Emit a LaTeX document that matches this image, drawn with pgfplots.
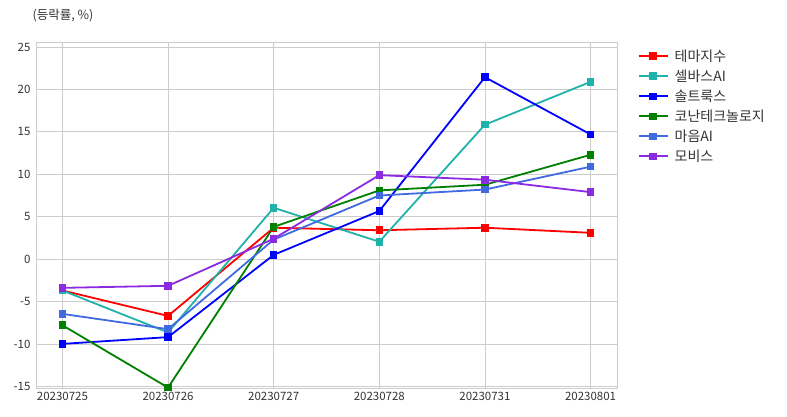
\documentclass[border=0pt]{standalone}
\usepackage{fontspec}
\setmainfont{Noto Sans CJK KR}
\usepackage{pgfplots}
\pgfplotsset{compat=1.18}
\definecolor{cRed}{HTML}{FF0000}
\definecolor{cTeal}{HTML}{20B2AA}
\definecolor{cBlue}{HTML}{0000FF}
\definecolor{cGreen}{HTML}{008000}
\definecolor{cRoyal}{HTML}{4169E1}
\definecolor{cViolet}{HTML}{8A2BE2}
\definecolor{gridgray}{HTML}{CCCCCC}
\definecolor{ticktext}{HTML}{333333}
\tikzset{series/.style={line width=1.8pt, mark=square*, mark size=2.9pt, color=#1, mark options={fill=#1}}}
\begin{document}
\begin{tikzpicture}
\path[use as bounding box] (0,0) rectangle (787pt,416pt);
\begin{axis}[
    at={(36pt,28pt)}, anchor=south west,
    scale only axis,
    width=581pt, height=346pt,
    xmin=-0.25, xmax=5.25,
    ymin=-15.2, ymax=25.6,
    xtick={0,1,2,3,4,5},
    xticklabels={20230725,20230726,20230727,20230728,20230731,20230801},
    ytick={-15,-10,-5,0,5,10,15,20,25},
    grid=major,
    grid style={gridgray, line width=0.8pt},
    axis line style={gridgray, line width=1pt},
    major tick length=0pt,
    tick label style={font=\fontsize{11.5}{13}\selectfont, text=ticktext},
    /pgf/number format/assume math mode=true,
    yticklabel style={xshift=-2pt},
    xticklabel style={yshift=-1pt},
    legend style={draw=none, fill=none, at={(1.03,0.99)}, anchor=north west,
        font=\fontsize{14}{16}\selectfont, row sep=3pt, text=ticktext},
    legend cell align=left,
    legend image code/.code={
        \draw[#1, line width=2pt] (0pt,0pt) -- (29pt,0pt);
        \draw[#1, only marks, mark size=2.9pt] plot coordinates {(14.5pt,0pt)};
    },
]
\addplot[series=cRed] coordinates {(0,-3.7) (1,-6.7) (2,3.7) (3,3.4) (4,3.7) (5,3.1)};
\addlegendentry{\hspace{4pt}테마지수}
\addplot[series=cTeal] coordinates {(0,-3.7) (1,-8.65) (2,6.05) (3,2.05) (4,15.85) (5,20.9)};
\addlegendentry{\hspace{4pt}셀바스AI}
\addplot[series=cBlue] coordinates {(0,-10.0) (1,-9.2) (2,0.5) (3,5.67) (4,21.45) (5,14.7)};
\addlegendentry{\hspace{4pt}솔트룩스}
\addplot[series=cGreen] coordinates {(0,-7.8) (1,-15.15) (2,3.8) (3,8.1) (4,8.77) (5,12.3)};
\addlegendentry{\hspace{4pt}코난테크놀로지}
\addplot[series=cRoyal] coordinates {(0,-6.46) (1,-8.26) (2,2.3) (3,7.5) (4,8.2) (5,10.9)};
\addlegendentry{\hspace{4pt}마음AI}
\addplot[series=cViolet] coordinates {(0,-3.39) (1,-3.15) (2,2.4) (3,9.9) (4,9.36) (5,7.9)};
\addlegendentry{\hspace{4pt}모비스}
\end{axis}
\node[anchor=west, text=ticktext, font=\fontsize{12.5}{14}\selectfont] at (29pt,400pt) {(등락률, \%)};
\end{tikzpicture}
\end{document}
